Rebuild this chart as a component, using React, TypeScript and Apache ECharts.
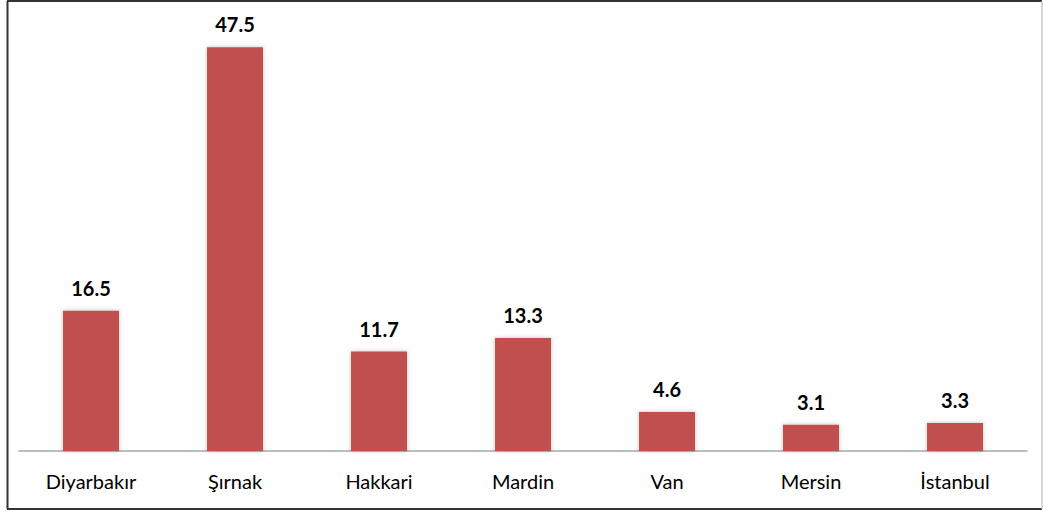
import React, { useEffect, useRef } from "react";
import * as echarts from "echarts";

const categories = ["Diyarbakır", "Şırnak", "Hakkari", "Mardin", "Van", "Mersin", "İstanbul"];
const values = [16.5, 47.5, 11.7, 13.3, 4.6, 3.1, 3.3];

export default function App() {
  const ref = useRef<HTMLDivElement>(null);
  useEffect(() => {
    if (!ref.current) return;
    const chart = echarts.init(ref.current, null, { renderer: "svg" });
    chart.setOption({
      animation: false,
      backgroundColor: "#ffffff",
      grid: { left: 19, right: 16, top: 26, bottom: 61, containLabel: false },
      xAxis: {
        type: "category",
        data: categories,
        axisLine: { show: true, lineStyle: { color: "#a6a6a6", width: 1.5 } },
        axisTick: { show: false },
        axisLabel: {
          color: "#000000",
          fontFamily: "Lato",
          fontSize: 20,
          margin: 20,
        },
      },
      yAxis: {
        type: "value",
        min: 0,
        max: 50,
        show: false,
        splitLine: { show: false },
      },
      series: [
        {
          type: "bar",
          data: values,
          barWidth: 56,
          itemStyle: {
            color: "#c0504d",
            shadowBlur: 4,
            shadowColor: "rgba(0,0,0,0.25)",
            shadowOffsetX: 0,
            shadowOffsetY: 0,
          },
          label: {
            show: true,
            position: "top",
            distance: 13,
            color: "#000000",
            fontFamily: "Lato",
            fontWeight: "bold",
            fontSize: 20,
            formatter: (p: any) => p.value.toFixed(1),
          },
        },
      ],
      graphic: [
        { type: "line", shape: { x1: 7, y1: 1, x2: 1042, y2: 1 }, style: { stroke: "#333333", lineWidth: 2 } },
        { type: "line", shape: { x1: 7.5, y1: 1, x2: 7.5, y2: 509 }, style: { stroke: "#333333", lineWidth: 2 } },
        { type: "line", shape: { x1: 7, y1: 509, x2: 1042, y2: 509 }, style: { stroke: "#333333", lineWidth: 2 } },
        { type: "line", shape: { x1: 1042, y1: 1, x2: 1042, y2: 509 }, style: { stroke: "#c8c8c8", lineWidth: 1.5 } },
      ],
    });
    return () => chart.dispose();
  }, []);
  return (
    <div
      ref={ref}
      style={{ position: "absolute", left: 0, top: 0, width: 1043, height: 512 }}
    />
  );
}
